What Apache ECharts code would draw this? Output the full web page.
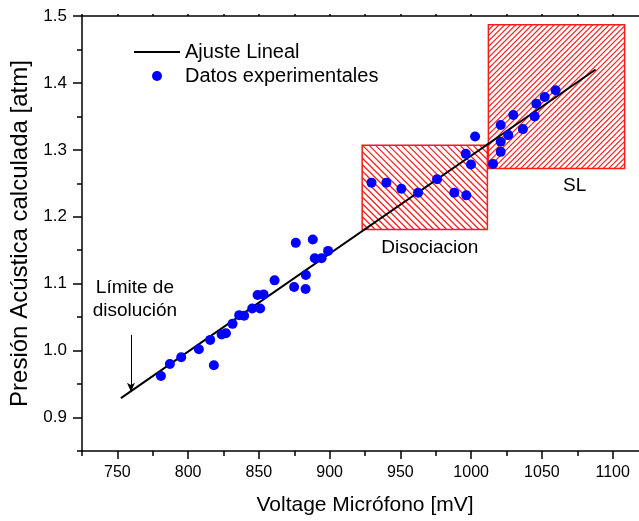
<!DOCTYPE html>
<html>
<head>
<meta charset="utf-8">
<script src="https://cdn.jsdelivr.net/npm/echarts@6/dist/echarts.min.js"></script>
<style>
  html, body { margin: 0; padding: 0; background: #fff; }
  #chart { width: 639px; height: 521px; }
</style>
</head>
<body>
<div id="chart"></div>
<script>
// Measured microphone voltage (mV) and computed acoustic pressure (atm)
const voltage = [780.8, 787.1, 795.1, 807.6, 815.6, 818.2, 823.7, 826.7, 831.4, 836.1,
  839.6, 845.3, 850.9, 849.1, 853.3, 861.1, 874.9, 883.0, 883.2, 876.1,
  888.1, 889.5, 894.3, 898.9, 929.6, 940.1, 950.7, 962.5, 975.9, 988.1,
  996.6, 996.2, 999.9, 1002.8, 1015.5, 1020.9, 1020.9, 1026.3, 1020.9, 1029.8,
  1036.6, 1044.9, 1046.1, 1052.0, 1059.7];
const pressure = [0.962, 0.980, 0.990, 1.002, 1.016, 0.978, 1.024, 1.026, 1.040, 1.053,
  1.052, 1.063, 1.063, 1.083, 1.084, 1.105, 1.095, 1.092, 1.113, 1.161,
  1.166, 1.138, 1.138, 1.149, 1.251, 1.251, 1.242, 1.236, 1.256, 1.236,
  1.232, 1.294, 1.278, 1.320, 1.279, 1.297, 1.312, 1.322, 1.337, 1.352,
  1.331, 1.350, 1.369, 1.379, 1.389];

// Linear fit end points
const fitVoltage = [752.5, 1088];
const fitPressure = [0.929, 1.420];

// Shaded regions: [voltage from, voltage to], [pressure from, pressure to]
const disocVolt = [923, 1011.5];
const disocPres = [1.181, 1.307];
const slVolt = [1012.2, 1108.5];
const slPres = [1.272, 1.487];

// Arrow marking the dissolution limit
const limitVolt = 759.6;
const limitPres = [1.0235, 0.9385];

// Axis ticks
const xMajorTicks = [750, 800, 850, 900, 950, 1000, 1050, 1100];
const yMajorTicks = [0.9, 1.0, 1.1, 1.2, 1.3, 1.4, 1.5];

const FONT = 'Liberation Sans, Arial, sans-serif';
const RED = '#ff1a1a';

// hatch style per region: slope direction (1 = "/", -1 = "\") and spacing in px
const hatchStyle = [{ dir: -1, gap: 6.5 }, { dir: 1, gap: 5.5 }];

// diagonal hatch segments clipped to a pixel rectangle
function hatchLines(x0, y0, x1, y1, dir, gap) {
  const out = [];
  if (dir > 0) {
    // x + y = c
    for (let c = x0 + y0 + gap; c < x1 + y1; c += gap) {
      const xa = Math.max(x0, c - y1), xb = Math.min(x1, c - y0);
      if (xb > xa) out.push([xa, c - xa, xb, c - xb]);
    }
  } else {
    // x - y = c
    for (let c = x0 - y1 + gap; c < x1 - y0; c += gap) {
      const xa = Math.max(x0, y0 + c), xb = Math.min(x1, y1 + c);
      if (xb > xa) out.push([xa, xa - c, xb, xb - c]);
    }
  }
  return out;
}

const xMin = 725, xMax = 1125, yMin = 0.85, yMax = 1.5;
// plot box; its right edge runs past the canvas
const gridBox = { left: 82, top: 16, width: 566, height: 435, outerBoundsMode: 'none', containLabel: false };

const chart = echarts.init(document.getElementById('chart'), null, { renderer: 'canvas' });

chart.setOption({
  animation: false,
  backgroundColor: '#fff',
  textStyle: { fontFamily: FONT },
  grid: [Object.assign({}, gridBox), Object.assign({}, gridBox)],
  legend: {
    left: 133, top: 42, orient: 'vertical', padding: 0,
    itemWidth: 46, itemHeight: 10, itemGap: 4,
    textStyle: { fontSize: 20, color: '#000', fontFamily: FONT },
    data: [
      { name: 'Ajuste Lineal', itemStyle: { opacity: 0 } },
      { name: 'Datos experimentales' }
    ]
  },
  xAxis: [
    {
      gridIndex: 0, type: 'value', position: 'bottom',
      min: xMin, max: xMax, interval: 25,
      name: 'Voltage Micrófono [mV]', nameLocation: 'middle', nameGap: 44,
      nameTextStyle: { fontSize: 21, color: '#000', fontFamily: FONT },
      axisLine: { show: true, onZero: false, lineStyle: { color: '#000', width: 1.5 } },
      axisTick: { show: true, inside: false, length: 5, lineStyle: { color: '#000', width: 1.5 } },
      axisLabel: {
        margin: 14, fontSize: 16, color: '#000', fontFamily: FONT,
        formatter: v => (Math.round(v) % 50 === 0 && v > xMin && v < xMax) ? String(Math.round(v)) : ''
      },
      splitLine: { show: false }
    },
    {
      gridIndex: 0, type: 'value', position: 'top',
      min: xMin, max: xMax, interval: 25,
      axisLine: { show: true, onZero: false, lineStyle: { color: '#000', width: 1.5 } },
      axisTick: { show: true, inside: false, length: 2, lineStyle: { color: '#000', width: 1.5 } },
      axisLabel: { show: false },
      splitLine: { show: false }
    },
    {
      gridIndex: 1, type: 'value', position: 'bottom',
      min: xMin, max: xMax,
      axisLine: { show: false },
      axisTick: { show: true, inside: false, length: 8, customValues: xMajorTicks,
        lineStyle: { color: '#000', width: 1.5 } },
      axisLabel: { show: false },
      splitLine: { show: false }
    }
  ],
  yAxis: [
    {
      gridIndex: 0, type: 'value', position: 'left',
      min: yMin, max: yMax, interval: 0.05,
      name: 'Presión Acústica calculada [atm]', nameLocation: 'middle', nameGap: 37,
      nameTextStyle: { fontSize: 24, color: '#000', fontFamily: FONT },
      axisLine: { show: true, onZero: false, lineStyle: { color: '#000', width: 1.5 } },
      axisTick: { show: true, inside: false, length: 5, lineStyle: { color: '#000', width: 1.5 } },
      axisLabel: {
        margin: 15, fontSize: 17, color: '#000', fontFamily: FONT,
        formatter: v => (Math.round(v * 100) % 10 === 0) ? v.toFixed(1) : ''
      },
      splitLine: { show: false }
    },
    {
      gridIndex: 1, type: 'value', position: 'left',
      min: yMin, max: yMax,
      axisLine: { show: false },
      axisTick: { show: true, inside: false, length: 9, customValues: yMajorTicks,
        lineStyle: { color: '#000', width: 1.5 } },
      axisLabel: { show: false },
      splitLine: { show: false }
    }
  ],
  series: [
    {
      // hatched regions: [v0, v1, p0, p1]
      name: 'regiones', type: 'custom', xAxisIndex: 0, yAxisIndex: 0,
      silent: true, z: 1, clip: false,
      encode: { x: [0, 1], y: [2, 3] },
      data: [
        [disocVolt[0], disocVolt[1], disocPres[0], disocPres[1]],
        [slVolt[0], slVolt[1], slPres[0], slPres[1]]
      ],
      renderItem: function (params, api) {
        const a = api.coord([api.value(0), api.value(3)]);
        const b = api.coord([api.value(1), api.value(2)]);
        const hs = hatchStyle[params.dataIndex];
        const segs = hatchLines(a[0], a[1], b[0], b[1], hs.dir, hs.gap);
        const children = segs.map(s => ({
          type: 'line',
          shape: { x1: s[0], y1: s[1], x2: s[2], y2: s[3] },
          style: { stroke: RED, lineWidth: 1.2 }
        }));
        children.push({
          type: 'rect',
          shape: { x: a[0], y: a[1], width: b[0] - a[0], height: b[1] - a[1] },
          style: { fill: null, stroke: RED, lineWidth: 1.5 }
        });
        return { type: 'group', children: children };
      }
    },
    {
      name: 'Ajuste Lineal', type: 'line', xAxisIndex: 0, yAxisIndex: 0,
      data: fitVoltage.map((v, i) => [v, fitPressure[i]]),
      showSymbol: false, symbol: 'none', z: 3,
      lineStyle: { color: '#000', width: 2 },
      itemStyle: { color: '#000' },
      markLine: {
        silent: true, symbol: ['none', 'arrow'], symbolSize: [6, 9],
        label: { show: false },
        lineStyle: { color: '#000', width: 1, type: 'solid' },
        data: [[{ coord: [limitVolt, limitPres[0]] }, { coord: [limitVolt, limitPres[1]] }]]
      },
      markPoint: {
        silent: true, symbol: 'circle', symbolSize: 0,
        itemStyle: { color: 'transparent' },
        label: {
          show: true, position: 'inside', formatter: '{b}',
          color: '#000', fontSize: 19, fontFamily: FONT, lineHeight: 23
        },
        data: [
          { name: 'Límite de\ndisolución', coord: [762.4, 1.077] },
          { name: 'Disociacion', coord: [970.8, 1.154] },
          { name: 'SL', coord: [1073.2, 1.246] }
        ]
      }
    },
    {
      name: 'Datos experimentales', type: 'scatter', xAxisIndex: 0, yAxisIndex: 0,
      data: voltage.map((v, i) => [v, pressure[i]]),
      symbol: 'circle', symbolSize: 10, z: 4,
      itemStyle: { color: '#0000ff', opacity: 1 }
    }
  ]
});
</script>
</body>
</html>
